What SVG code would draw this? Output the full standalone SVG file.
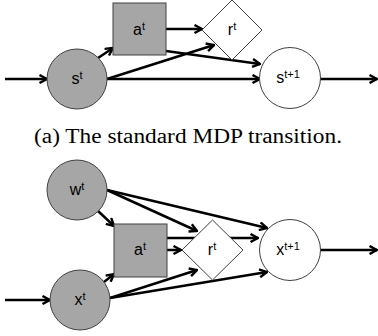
<svg xmlns="http://www.w3.org/2000/svg" width="378" height="336" viewBox="0 0 378 336">
<style>
.c{fill:#a6a6a6;stroke:#404040;stroke-width:1}
.w{fill:#fff;stroke:#404040;stroke-width:1}
.l{font-family:"Liberation Sans","DejaVu Sans",sans-serif;font-size:16px;fill:#000;text-anchor:middle}
.sup{font-size:11px}
.e{stroke:#000;stroke-width:2.5;fill:none;marker-end:url(#arr)}
.cap{font-family:"Liberation Serif","Times New Roman",serif;font-size:20px;fill:#000}
</style>
<defs>
<marker id="arr" viewBox="0 0 10 10" refX="9" refY="5" markerWidth="10" markerHeight="10" markerUnits="userSpaceOnUse" orient="auto">
<path d="M1.5,1 L9,5 L1.5,9" fill="none" stroke="#000" stroke-width="2.4"/>
</marker>
</defs>
<g id="connectors">
<line class="e" x1="5" y1="79" x2="47" y2="79"/>
<line class="e" x1="98" y1="58" x2="113" y2="48"/>
<line class="e" x1="166" y1="29" x2="202" y2="29"/>
<line class="e" x1="107" y1="79" x2="214" y2="45"/>
<line class="e" x1="166" y1="51" x2="260" y2="64"/>
<line class="e" x1="107" y1="79" x2="260" y2="79"/>
<line class="e" x1="320" y1="79" x2="377" y2="79"/>
<line class="e" x1="98" y1="211" x2="114" y2="226"/>
<line class="e" x1="104" y1="282" x2="114" y2="274"/>
<line class="e" x1="167" y1="250" x2="181" y2="250"/>
<line class="e" x1="167" y1="238" x2="258" y2="238"/>
<line class="e" x1="107" y1="190" x2="197" y2="231"/>
<line class="e" x1="107" y1="190" x2="267" y2="228"/>
<line class="e" x1="110" y1="298" x2="197" y2="270"/>
<line class="e" x1="110" y1="298" x2="267" y2="272"/>
<line class="e" x1="5" y1="300" x2="50" y2="300"/>
<line class="e" x1="320" y1="250" x2="377" y2="250"/>
</g>
<g id="s_t"><circle class="c" cx="77" cy="79" r="30"/><text class="l" x="77" y="84">s<tspan class="sup" dy="-5">t</tspan></text></g>
<g id="a_t_top"><rect class="c" x="113" y="3" width="53" height="52"/><text class="l" x="139" y="35">a<tspan class="sup" dy="-5">t</tspan></text></g>
<g id="r_t_top"><polygon class="w" points="232,0 262,30 232,60 202,30"/><text class="l" x="232" y="35">r<tspan class="sup" dy="-5">t</tspan></text></g>
<g id="s_t1"><circle class="w" cx="290" cy="78" r="30.5"/><text class="l" x="288" y="83">s<tspan class="sup" dy="-5">t+1</tspan></text></g>
<g id="caption"><text class="cap" x="34" y="143" textLength="308" lengthAdjust="spacingAndGlyphs">(a) The standard MDP transition.</text></g>
<g id="w_t"><circle class="c" cx="77" cy="190" r="30"/><text class="l" x="77" y="195">w<tspan class="sup" dy="-5">t</tspan></text></g>
<g id="x_t"><circle class="c" cx="80" cy="300" r="30"/><text class="l" x="80" y="305">x<tspan class="sup" dy="-5">t</tspan></text></g>
<g id="a_t_bot"><rect class="c" x="114" y="224" width="53" height="53"/><text class="l" x="140" y="255">a<tspan class="sup" dy="-5">t</tspan></text></g>
<g id="r_t_bot"><polygon class="w" points="212.5,220 243,250 212.5,280 182,250"/><text class="l" x="212" y="255">r<tspan class="sup" dy="-5">t</tspan></text></g>
<g id="x_t1"><circle class="w" cx="290" cy="250" r="30.5"/><text class="l" x="288" y="255">x<tspan class="sup" dy="-5">t+1</tspan></text></g>
</svg>
